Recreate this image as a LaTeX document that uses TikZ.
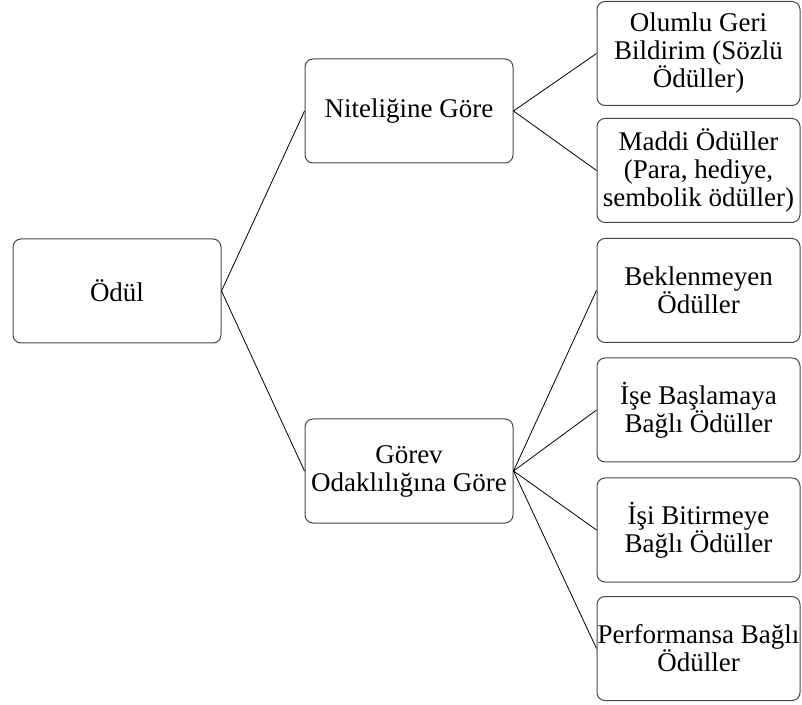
\documentclass[tikz,border=0pt]{standalone}
\usepackage{fontspec}
\setmainfont{Liberation Serif}
\usepackage{tikz}
\usetikzlibrary{shapes.misc}
\definecolor{rahmen}{RGB}{70,70,70}

\begin{document}
\begin{tikzpicture}[x=1pt, y=1pt,
	kutu/.style={draw=rahmen, line width=1pt, rectangle, rounded corners=8pt,
		align=center, inner sep=0pt, font=\fontsize{27}{28}\selectfont},
	kutuA/.style={kutu, minimum width=208pt, minimum height=104pt},
	kutuB/.style={kutu, minimum width=203pt, minimum height=104pt},
	linie/.style={black, line width=0.8pt}]

	\useasboundingbox (0,0) rectangle (802,704);

	% Seviye 1
	\node[kutuA] (O) at (117,413) {Ödül};

	% Seviye 2
	\node[kutuA] (N1) at (409,593) {Niteliğine Göre};
	\node[kutuA] (N2) at (409,233) {Görev\\Odaklılığına Göre};

	\draw[linie] (O.east) -- (N1.west);
	\draw[linie] (O.east) -- (N2.west);

	% Seviye 3
	\node[kutuB] (N11) at (698.5,650.5) {Olumlu Geri\\Bildirim (Sözlü\\Ödüller)};
	\node[kutuB] (N12) at (698.5,533.5) {Maddi Ödüller\\(Para, hediye,\\sembolik ödüller)};

	\draw[linie] (N1.east) -- (N11.west);
	\draw[linie] (N1.east) -- (N12.west);

	\node[kutuB] (N21) at (698.5,413.5) {Beklenmeyen\\Ödüller};
	\node[kutuB] (N22) at (698.5,294) {İşe Başlamaya\\Bağlı Ödüller};
	\node[kutuB] (N23) at (698.5,174) {İşi Bitirmeye\\Bağlı Ödüller};
	\node[kutuB] (N24) at (698.5,55.5) {Performansa Bağlı\\Ödüller};

	\draw[linie] (N2.east) -- (N21.west);
	\draw[linie] (N2.east) -- (N22.west);
	\draw[linie] (N2.east) -- (N23.west);
	\draw[linie] (N2.east) -- (N24.west);

\end{tikzpicture}
\end{document}
